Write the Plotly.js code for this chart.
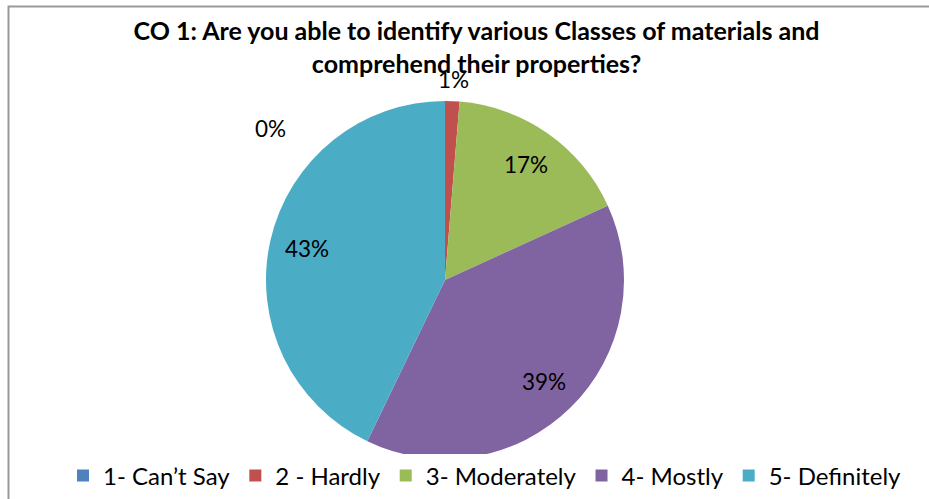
<!DOCTYPE html>
<html>
<head>
<meta charset="utf-8">
<script src="https://cdn.plot.ly/plotly-3.0.1.min.js"></script>
<style>html,body{margin:0;padding:0;background:#fff;}#chart{width:929px;height:499px;}</style>
</head>
<body>
<div id="chart"></div>
<script>
// ---- data ----
var categories = ["1- Can\u2019t Say", "2 - Hardly", "3- Moderately", "4- Mostly", "5- Definitely"];
var counts = [0, 1, 13, 30, 33];
var colors = ["#4F81BD", "#C0504D", "#9BBB59", "#8064A2", "#4BACC6"];
var titleText = "<b>CO 1: Are you able to identify various Classes of materials and<br>comprehend their properties?</b>";

// ---- layout constants ----
var W = 929, H = 499;
var cx = 445, cy = 280, R = 179;
var FONT = "Lato, 'Open Sans', sans-serif";

var total = counts.reduce(function(a, b){ return a + b; }, 0);
var annotations = [];
var cum = 0;
counts.forEach(function(v, i){
  var frac = v / total;
  var mid = (cum + v / 2) / total;
  cum += v;
  var th = 2 * Math.PI * mid;
  var rf = frac < 0.05 ? 1.12 : 0.79;
  var px = cx + rf * R * Math.sin(th);
  var py = cy - rf * R * Math.cos(th);
  if (v === 0) { px = cx - 175; py = cy - 152; } // Excel moves the empty slice label aside
  annotations.push({
    xref: "paper", yref: "paper",
    x: px / W, y: 1 - py / H,
    xanchor: "center", yanchor: "middle",
    text: Math.round(frac * 100) + "%",
    showarrow: false,
    font: {family: FONT, size: 22.5, color: "#000"}
  });
});

var trace = {
  type: "pie",
  labels: categories,
  values: counts,
  marker: {colors: colors, line: {width: 0}},
  sort: false,
  direction: "clockwise",
  rotation: 0,
  textinfo: "none",
  hoverinfo: "label+percent",
  domain: {x: [(cx - R) / W, (cx + R) / W], y: [1 - (cy + R) / H, 1 - (cy - R) / H]}
};

var layout = {
  width: W, height: H,
  margin: {l: 0, r: 0, t: 0, b: 0},
  paper_bgcolor: "#fff",
  showlegend: true,
  title: {
    text: titleText,
    x: 476.5 / W, xanchor: "center", xref: "paper",
    y: 1 - 40 / H, yanchor: "top", yref: "container",
    font: {family: FONT, size: 25, color: "#000"}
  },
  legend: {
    orientation: "h",
    x: 485 / W, xanchor: "center",
    y: 1 - 476 / H, yanchor: "middle",
    font: {family: FONT, size: 24, color: "#000"},
    traceorder: "normal",
    itemclick: false, itemdoubleclick: false
  },
  annotations: annotations,
  shapes: [{
    type: "rect", xref: "paper", yref: "paper",
    x0: 8.5 / W, x1: 1.05, y0: -0.05, y1: 1 - 6.5 / H,
    line: {color: "#999", width: 2}, fillcolor: "rgba(0,0,0,0)"
  }]
};

Plotly.newPlot("chart", [trace], layout, {displayModeBar: false, staticPlot: true});
</script>
</body>
</html>
